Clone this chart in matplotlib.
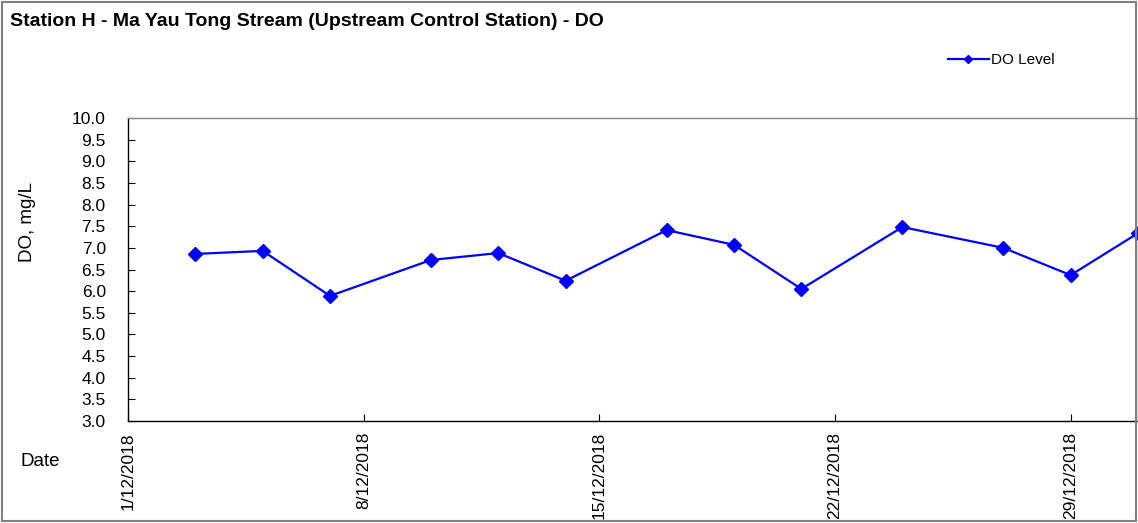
import matplotlib.pyplot as plt
import matplotlib.dates as mdates
from matplotlib.patches import Rectangle
import numpy as np
from datetime import datetime

plt.rcParams['font.family'] = ['Liberation Sans', 'DejaVu Sans']

# sampling days (December 2018) and DO readings
days = [3, 5, 7, 10, 12, 14, 17, 19, 21, 24, 27, 29, 31]
do_level = [6.86, 6.93, 5.89, 6.72, 6.88, 6.24, 7.41, 7.07, 6.05, 7.48, 7.00, 6.37, 7.34]
tick_days = [1, 8, 15, 22, 29]
y_ticks = np.arange(3.0, 10.01, 0.5)

dates = [datetime(2018, 12, d) for d in days]
tick_dates = [datetime(2018, 12, d) for d in tick_days]

fig = plt.figure(figsize=(11.38, 5.23), dpi=100)
ax = fig.add_axes([128 / 1138, 1 - 421 / 523, 1010 / 1138, 303 / 523])

ax.plot(dates, do_level, color='#0000ff', lw=1.6, marker='D', ms=7,
        label='DO Level', clip_on=True)

ax.set_xlim(datetime(2018, 12, 1), datetime(2018, 12, 31))
ax.set_ylim(3.0, 10.0)
ax.set_yticks(y_ticks)
ax.set_yticklabels(['%.1f' % v for v in y_ticks], fontsize=12.5)
ax.set_xticks(tick_dates)
ax.xaxis.set_major_formatter(mdates.DateFormatter('%-d/%m/%Y'))
plt.setp(ax.get_xticklabels(), rotation=90, fontsize=12.5)
ax.tick_params(axis='both', direction='in', length=5, width=0.8)
ax.tick_params(axis='y', left=True, right=False, pad=16)
ax.tick_params(axis='x', top=False, pad=8)

for s in ['left', 'bottom']:
    ax.spines[s].set_color('black')
    ax.spines[s].set_linewidth(1.0)
for s in ['top', 'right']:
    ax.spines[s].set_color('#888888')
    ax.spines[s].set_linewidth(1.0)

fig.text(28 / 1138, 1 - 222 / 523, 'DO, mg/L', rotation=90, fontsize=13.5,
         ha='center', va='center')
fig.text(20 / 1138, 1 - 462 / 523, 'Date', fontsize=13.5, ha='left', va='center')
fig.text(10 / 1138, 1 - 22 / 523,
         'Station H - Ma Yau Tong Stream (Upstream Control Station) - DO',
         fontsize=14, fontweight='bold', ha='left', va='center')

leg = fig.legend(loc='center left', bbox_to_anchor=(934 / 1138, 1 - 60 / 523),
                 frameon=False, fontsize=11, handlelength=2.7, markerscale=0.55,
                 handletextpad=0.1)

fig.patches.append(Rectangle((2 / 1138, 2 / 523), 1 - 4 / 1138, 1 - 4 / 523,
                             transform=fig.transFigure, fill=False,
                             edgecolor='#808080', lw=1.5))

fig.savefig('out.png', dpi=100)
